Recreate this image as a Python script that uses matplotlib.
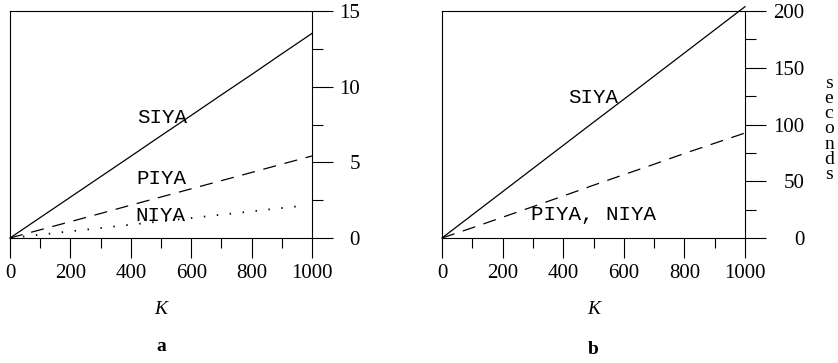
import matplotlib
matplotlib.use("Agg")
import matplotlib.pyplot as plt
from matplotlib.ticker import MultipleLocator

# problem size K
k_vals = [0, 100, 200, 300, 400, 500, 600, 700, 800, 900, 1000]

# panel a: seconds
siya_a = [0, 1.35, 2.70, 4.05, 5.40, 6.76, 8.10, 9.46, 10.80, 12.17, 13.52]
piya_a = [0, 0.54, 1.08, 1.62, 2.17, 2.71, 3.25, 3.79, 4.33, 4.88, 5.42]
niya_a = [0, 0.22, 0.44, 0.66, 0.88, 1.10, 1.32, 1.54, 1.76, 1.98, 2.20]

# panel b: seconds
siya_b = [0, 20.4, 40.8, 61.2, 81.6, 102.0, 122.2, 142.6, 163.0, 183.4, 203.8]
piyaniya_b = [0, 9.0, 18.3, 27.6, 37.0, 46.5, 55.8, 65.0, 74.5, 83.5, 92.5]

serif = ['Liberation Serif', 'DejaVu Serif']
mono = ['Liberation Mono', 'DejaVu Sans Mono']

plt.rcParams['font.family'] = serif
plt.rcParams['mathtext.default'] = 'regular'

fig = plt.figure(figsize=(8.38, 3.63), dpi=100)
ax_a = fig.add_axes([10/838, 125/363, 302/838, 227/363])
ax_b = fig.add_axes([442/838, 125/363, 303/838, 227/363])

dash = (0, (10.5, 7))
dot = (0, (0.8, 6.4))


def style_axes(ax, ymax, ymajor, label_pad):
    ax.set_xlim(0, 1000)
    ax.set_ylim(0, ymax)
    ax.xaxis.set_major_locator(MultipleLocator(200))
    ax.xaxis.set_minor_locator(MultipleLocator(100))
    ax.yaxis.set_major_locator(MultipleLocator(ymajor))
    ax.yaxis.set_minor_locator(MultipleLocator(ymajor / 2))
    ax.yaxis.tick_right()
    ax.tick_params(axis='x', which='major', direction='out', length=14.5,
                   width=0.8, pad=4, labelsize=15)
    ax.tick_params(axis='x', which='minor', direction='out', length=7, width=0.8)
    ax.tick_params(axis='y', which='major', direction='out', length=15,
                   width=0.8, pad=label_pad, labelsize=15)
    ax.tick_params(axis='y', which='minor', direction='out', length=8, width=0.8)
    for lab in ax.get_yticklabels():
        lab.set_horizontalalignment('right')
    plt.setp(ax.spines.values(), linewidth=0.8)
    ax.text(0.5, -0.317, 'K', transform=ax.transAxes, ha='center', va='center',
            fontsize=14, style='italic')


style_axes(ax_a, 15, 5, 19.5)
style_axes(ax_b, 200, 50, 28)

ax_a.plot(k_vals, siya_a, color='black', lw=0.9, clip_on=False)
ax_a.plot(k_vals, piya_a, color='black', lw=0.9, linestyle=dash)
ax_a.plot(k_vals[:-1] + [965], niya_a[:-1] + [2.12], color='black', lw=1.3,
          linestyle=dot)
ax_a.text(420, 7.96, 'SIYA', family=mono, fontsize=15, ha='left', va='center')
ax_a.text(420, 3.91, 'PIYA', family=mono, fontsize=15, ha='left', va='center')
ax_a.text(416, 1.49, 'NIYA', family=mono, fontsize=15, ha='left', va='center')
ax_a.text(0.5, -0.48, 'a', transform=ax_a.transAxes, ha='center', va='center',
          fontsize=14, weight='bold')

ax_b.plot(k_vals, siya_b, color='black', lw=0.9, clip_on=False)
ax_b.plot(k_vals, piyaniya_b, color='black', lw=0.9, linestyle=dash)
ax_b.text(416, 123.8, 'SIYA', family=mono, fontsize=15, ha='left', va='center')
ax_b.text(294, 20.7, 'PIYA, NIYA', family=mono, fontsize=15, ha='left', va='center')
ax_b.text(0.5, -0.493, 'b', transform=ax_b.transAxes, ha='center', va='center',
          fontsize=14, weight='bold')

fig.text(829/838, 1 - 129/363, '\n'.join('seconds'), ha='center', va='center',
         fontsize=14, linespacing=0.85)

fig.savefig('out.png', dpi=100)
